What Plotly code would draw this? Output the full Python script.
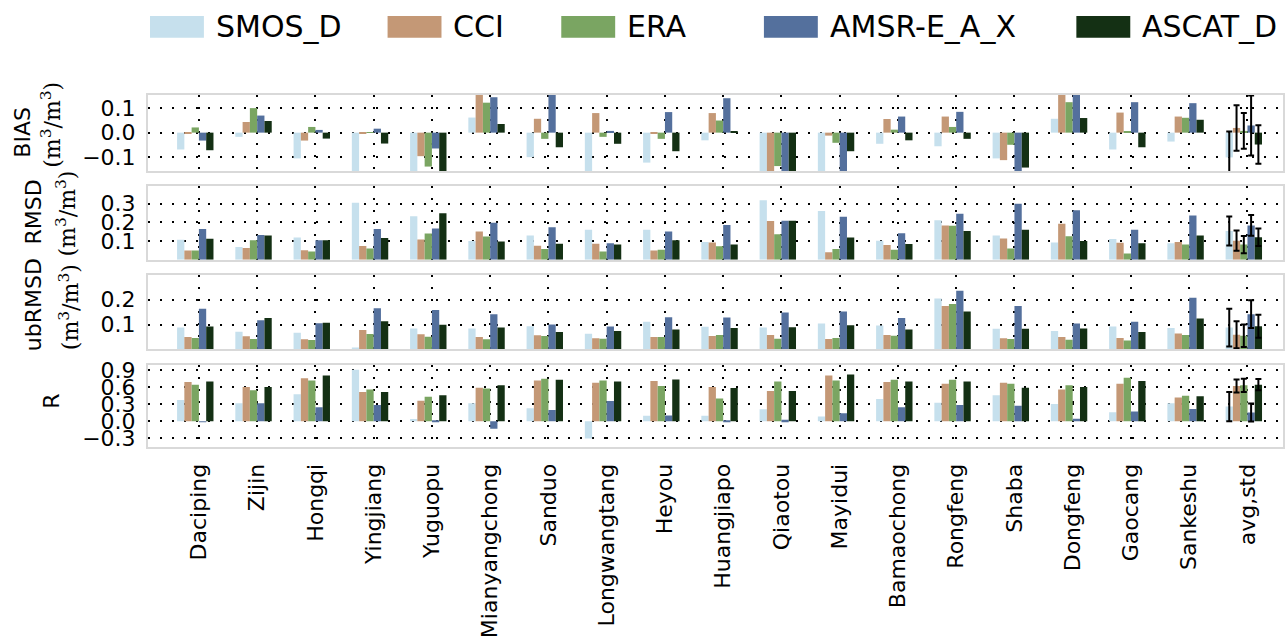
import plotly.graph_objects as go
from plotly.subplots import make_subplots

# ---- station names (x categories) ----
stations = ["Daciping", "Zijin", "Hongqi", "Yingjiang", "Yuguopu", "Mianyangchong",
            "Sanduo", "Longwangtang", "Heyou", "Huangjiapo", "Qiaotou", "Mayidui",
            "Bamaochong", "Rongfeng", "Shaba", "Dongfeng", "Gaocang", "Sankeshu", "avg,std"]

products = ["SMOS_D", "CCI", "ERA", "AMSR-E_A_X", "ASCAT_D"]

# ---- BIAS (m3/m3); last entry is the average over stations ----
bias_smos = [-0.068, -0.017, -0.104, -0.17, -0.17, 0.061, -0.099, -0.17, -0.121, -0.031,
             -0.17, -0.17, -0.045, -0.055, -0.104, 0.056, -0.068, -0.036, -0.100]
bias_cci = [-0.003, 0.043, -0.032, -0.005, -0.095, 0.16, 0.056, 0.079, -0.004, 0.079,
            -0.17, -0.012, 0.055, 0.065, -0.111, 0.16, 0.081, 0.065, 0.019]
bias_era = [0.021, 0.099, 0.023, 0.002, -0.137, 0.121, -0.025, -0.017, -0.025, 0.049,
            -0.135, -0.041, 0.012, 0.023, -0.049, 0.123, 0.003, 0.060, 0.007]
bias_amsr = [-0.032, 0.069, 0.011, 0.016, -0.064, 0.143, 0.16, 0.007, 0.083, 0.139,
             -0.17, -0.17, 0.065, 0.084, -0.17, 0.16, 0.123, 0.119, 0.029]
bias_ascat = [-0.071, 0.047, -0.024, -0.044, -0.17, 0.035, -0.059, -0.045, -0.075, 0.004,
              -0.17, -0.075, -0.031, -0.025, -0.141, 0.059, -0.059, 0.052, -0.048]
bias_std = [0.105, 0.092, 0.072, 0.121, 0.078]

# ---- RMSD (m3/m3) ----
rmsd_smos = [0.107, 0.068, 0.119, 0.305, 0.233, 0.100, 0.130, 0.160, 0.160, 0.095,
             0.319, 0.261, 0.102, 0.211, 0.130, 0.093, 0.111, 0.089, 0.154]
rmsd_cci = [0.049, 0.063, 0.051, 0.074, 0.109, 0.151, 0.075, 0.086, 0.049, 0.093,
            0.207, 0.040, 0.079, 0.184, 0.114, 0.193, 0.091, 0.095, 0.102]
rmsd_era = [0.049, 0.104, 0.044, 0.060, 0.140, 0.125, 0.058, 0.044, 0.053, 0.072,
            0.137, 0.058, 0.054, 0.182, 0.060, 0.126, 0.033, 0.081, 0.081]
rmsd_amsr = [0.165, 0.132, 0.104, 0.165, 0.168, 0.198, 0.174, 0.089, 0.151, 0.186,
             0.209, 0.230, 0.142, 0.247, 0.300, 0.265, 0.160, 0.237, 0.184]
rmsd_ascat = [0.112, 0.130, 0.105, 0.116, 0.249, 0.098, 0.086, 0.081, 0.105, 0.082,
              0.209, 0.119, 0.084, 0.154, 0.160, 0.100, 0.088, 0.130, 0.121]
rmsd_std = [0.078, 0.054, 0.046, 0.056, 0.047]

# ---- ubRMSD (m3/m3) ----
ubrmsd_smos = [0.088, 0.071, 0.067, 0.008, 0.084, 0.084, 0.093, 0.063, 0.111, 0.091,
               0.088, 0.104, 0.096, 0.205, 0.083, 0.074, 0.092, 0.086, 0.088]
ubrmsd_cci = [0.050, 0.053, 0.041, 0.078, 0.061, 0.050, 0.057, 0.045, 0.050, 0.054,
              0.058, 0.042, 0.058, 0.175, 0.045, 0.050, 0.046, 0.064, 0.059]
ubrmsd_era = [0.046, 0.042, 0.038, 0.062, 0.051, 0.041, 0.054, 0.043, 0.050, 0.058,
              0.043, 0.046, 0.055, 0.183, 0.042, 0.039, 0.036, 0.058, 0.055]
ubrmsd_amsr = [0.164, 0.117, 0.105, 0.166, 0.159, 0.142, 0.100, 0.092, 0.129, 0.128,
               0.149, 0.153, 0.126, 0.236, 0.175, 0.104, 0.111, 0.208, 0.142]
ubrmsd_ascat = [0.092, 0.126, 0.107, 0.113, 0.099, 0.088, 0.070, 0.074, 0.080, 0.086,
                0.089, 0.097, 0.080, 0.153, 0.083, 0.084, 0.070, 0.124, 0.093]
ubrmsd_std = [0.076, 0.054, 0.045, 0.056, 0.046]

# ---- correlation R ----
r_smos = [0.373, 0.316, 0.476, 0.906, 0.040, 0.316, 0.229, -0.30, 0.098, 0.098,
          0.212, 0.086, 0.390, 0.327, 0.459, 0.304, 0.161, 0.316, 0.258]
r_cci = [0.688, 0.602, 0.757, 0.516, 0.361, 0.591, 0.717, 0.677, 0.706, 0.602,
         0.534, 0.803, 0.688, 0.660, 0.677, 0.557, 0.660, 0.419, 0.620]
r_era = [0.643, 0.545, 0.717, 0.557, 0.430, 0.574, 0.746, 0.717, 0.620, 0.402,
         0.700, 0.717, 0.729, 0.729, 0.660, 0.631, 0.763, 0.448, 0.631]
r_amsr = [-0.010, 0.316, 0.247, 0.287, 0.005, -0.130, 0.200, 0.356, 0.103, 0.005,
          0.029, 0.143, 0.247, 0.287, 0.275, 0.046, 0.172, 0.218, 0.155]
r_ascat = [0.700, 0.602, 0.803, 0.516, 0.459, 0.631, 0.729, 0.700, 0.734, 0.585,
           0.534, 0.820, 0.700, 0.700, 0.591, 0.602, 0.706, 0.442, 0.643]
r_std = [0.258, 0.115, 0.115, 0.158, 0.100]

colors = ["#c6e0ed", "#c49876", "#7aa562", "#54709d", "#143014"]

panels = [
    dict(series=[bias_smos, bias_cci, bias_era, bias_amsr, bias_ascat], std=bias_std,
         rng=[-0.155, 0.152], tickvals=[-0.1, 0.0, 0.1], ticktext=["\u22120.1", "0.0", "0.1"]),
    dict(series=[rmsd_smos, rmsd_cci, rmsd_era, rmsd_amsr, rmsd_ascat], std=rmsd_std,
         rng=[0, 0.396], tickvals=[0.1, 0.2, 0.3], ticktext=["0.1", "0.2", "0.3"]),
    dict(series=[ubrmsd_smos, ubrmsd_cci, ubrmsd_era, ubrmsd_amsr, ubrmsd_ascat], std=ubrmsd_std,
         rng=[0, 0.301], tickvals=[0.1, 0.2], ticktext=["0.1", "0.2"]),
    dict(series=[r_smos, r_cci, r_era, r_amsr, r_ascat], std=r_std,
         rng=[-0.45, 0.985], tickvals=[-0.3, 0.0, 0.3, 0.6, 0.9],
         ticktext=["\u22120.3", "0.0", "0.3", "0.6", "0.9"]),
]

bar_w = 0.125
offsets = [-3 * bar_w, -2 * bar_w, -bar_w, 0.0, bar_w]
xpos = list(range(len(stations)))

fig = make_subplots(rows=4, cols=1, shared_xaxes=True)

for r, p in enumerate(panels, start=1):
    for k, vals in enumerate(p["series"]):
        fig.add_trace(go.Bar(x=xpos, y=vals, width=bar_w, offset=offsets[k],
                             marker=dict(color=colors[k], line=dict(width=0)),
                             name=products[k], showlegend=False), row=r, col=1)
    # standard deviation whiskers on the station-average group
    for k, vals in enumerate(p["series"]):
        fig.add_trace(go.Scatter(x=[xpos[-1] + offsets[k] + bar_w / 2], y=[vals[-1]],
                                 mode="markers", marker=dict(size=1, opacity=0),
                                 error_y=dict(type="data", array=[p["std"][k]], visible=True,
                                              color="black", thickness=2, width=3),
                                 showlegend=False, hoverinfo="skip"), row=r, col=1)

# panel placement (paper coordinates)
domains = [[0.784, 1.0], [0.532, 0.742], [0.277, 0.490], [0.0, 0.2325]]
grid_dash = "2px,10px"
for r, p in enumerate(panels, start=1):
    fig.update_yaxes(range=p["rng"], tickvals=p["tickvals"], ticktext=p["ticktext"],
                     domain=domains[r - 1], showgrid=True, gridcolor="black", gridwidth=1.5,
                     griddash=grid_dash, zeroline=False, showline=True, mirror=True,
                     linecolor="#d9d9d9", linewidth=2, ticks="", ticklabelstandoff=6,
                     tickfont=dict(family="DejaVu Sans", size=22, color="black"),
                     row=r, col=1)
    fig.update_xaxes(range=[-0.874, 18.61], tickvals=xpos, ticktext=stations,
                     showticklabels=(r == 4), tickangle=-90, showgrid=True, gridcolor="black",
                     gridwidth=1.5, griddash=grid_dash, zeroline=False, showline=True,
                     mirror=True, linecolor="#d9d9d9", linewidth=2, ticks="",
                     ticklabelstandoff=6,
                     tickfont=dict(family="DejaVu Sans", size=22, color="black"),
                     row=r, col=1)

# plot-area geometry in pixels, used to place labels and legend in paper units
L, R_, T, B = 148, 1285, 95, 452


def px(x):
    return (x - L) / (R_ - L)


def py(y):
    return (B - y) / (B - T)


annotations = []
unit = "(m<sup>3</sup>/m<sup>3</sup>)"
ylabels = [
    ("BIAS", 22, 133, "DejaVu Sans"), (unit, 50, 125, "DejaVu Serif"),
    ("RMSD", 33, 214, "DejaVu Sans"), (unit, 66, 215, "DejaVu Serif"),
    ("ubRMSD", 33, 308, "DejaVu Sans"), (unit, 69, 310, "DejaVu Serif"),
    ("R", 51, 406, "DejaVu Sans"),
]
for text, x, y, fam in ylabels:
    annotations.append(dict(text=text, x=px(x), y=py(y), xref="paper", yref="paper",
                            textangle=-90, showarrow=False, xanchor="center", yanchor="middle",
                            font=dict(family=fam, size=22, color="black")))

# legend drawn as large swatches with labels
legend_swatch_x = [150, 388, 562, 765, 1078]
shapes = []
for k, name in enumerate(products):
    x0 = legend_swatch_x[k]
    shapes.append(dict(type="rect", xref="paper", yref="paper",
                       x0=px(x0), x1=px(x0 + 54), y0=py(37), y1=py(15),
                       fillcolor=colors[k], line=dict(width=0)))
    annotations.append(dict(text=name, x=px(x0 + 64), y=py(26), xref="paper", yref="paper",
                            showarrow=False, xanchor="left", yanchor="middle",
                            font=dict(family="DejaVu Sans", size=30, color="black")))

fig.update_layout(width=1286, height=639, margin=dict(l=L, r=1286 - R_, t=T, b=639 - B),
                  plot_bgcolor="white", paper_bgcolor="white", barmode="overlay",
                  showlegend=False, annotations=annotations, shapes=shapes)

fig.write_html("out.html")
